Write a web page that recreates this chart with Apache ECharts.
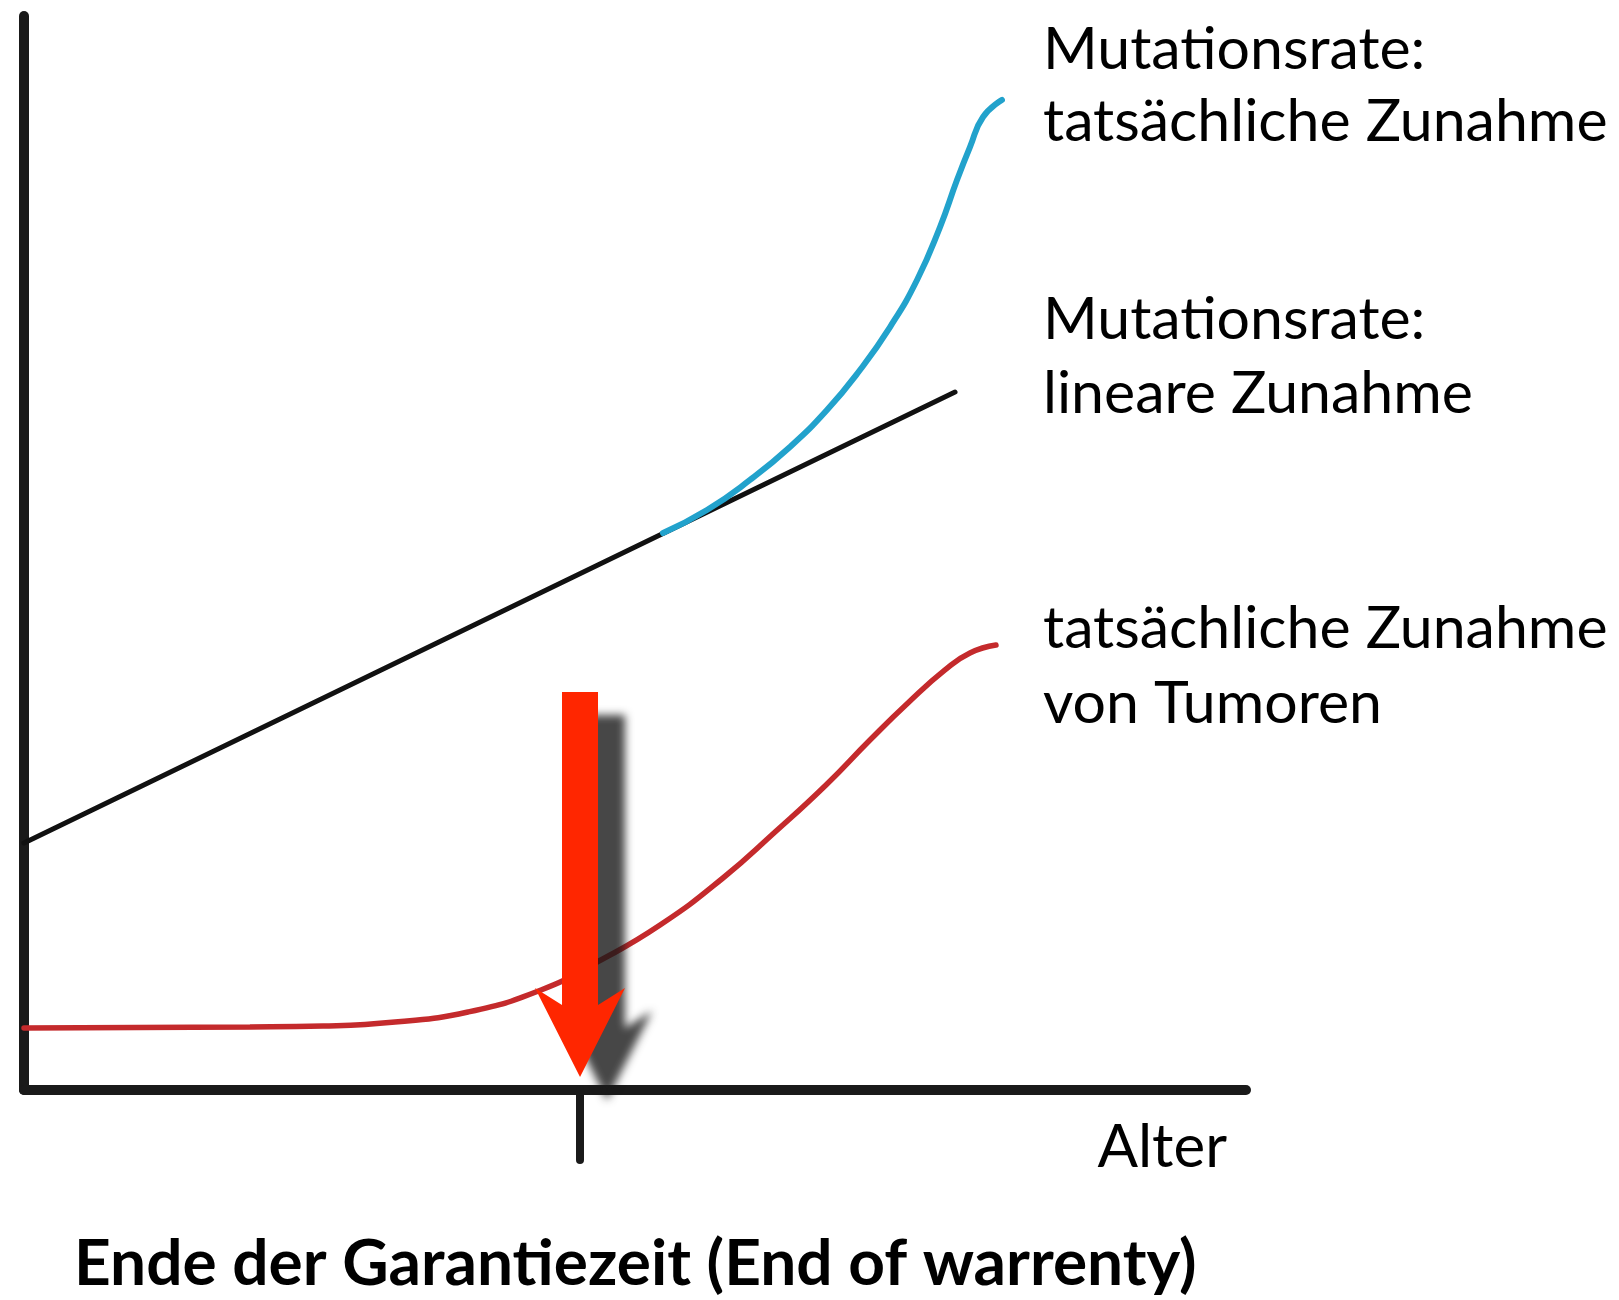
<!DOCTYPE html>
<html>
<head>
<meta charset="utf-8">
<script src="https://cdn.jsdelivr.net/npm/echarts@6/dist/echarts.min.js"></script>
<style>
  html, body { margin: 0; padding: 0; background: #ffffff; }
  #chart { width: 1619px; height: 1300px; }
</style>
</head>
<body>
<div id="chart"></div>
<script>
// ---- data (age 0..100, rate 0..100, abstract units) ----
const linearRate = [[0, 23.0], [76.19, 64.99]];
const actualRate = [
  [52.29, 51.86], [55.89, 54.00], [59.41, 56.80], [62.68, 59.87], [65.71, 63.31],
  [68.41, 67.04], [70.87, 71.04], [73.08, 75.42], [74.96, 80.35], [76.35, 84.73],
  [77.41, 87.80], [78.48, 90.60], [80.03, 92.18]
];
const tumorRate = [
  [0, 5.77], [18.49, 5.87], [24.47, 5.96], [30.36, 6.33], [36.33, 7.26],
  [42.31, 9.31], [47.05, 12.01], [52.05, 15.36], [57.20, 19.74], [61.46, 24.02],
  [65.63, 28.40], [69.23, 32.59], [72.42, 36.13], [75.37, 39.11], [77.41, 40.69],
  [79.54, 41.43]
];
const warrantyAge = 45.5;
const arrowSpan = [[warrantyAge, 37.05, 1.2]]; // [age, top, tip]
const labelActual = ['Mutationsrate:', 'tatsächliche Zunahme'];
const labelLinear = ['Mutationsrate:', 'lineare Zunahme'];
const labelTumor = ['tatsächliche Zunahme', 'von Tumoren'];
const xAxisName = 'Alter';
const title = 'Ende der Garantiezeit (End of warrenty)';

const FONT = 'Lato, "Noto Sans", sans-serif';
const chart = echarts.init(document.getElementById('chart'), null, { renderer: 'canvas' });

function textEl(txt, x, y, size, weight, align) {
  return {
    type: 'text', x: x, y: y, z: 10,
    style: { text: txt, font: weight + ' ' + size + 'px ' + FONT, fill: '#000',
             align: align || 'left', verticalAlign: 'middle' }
  };
}

const option = {
  animation: false,
  backgroundColor: '#ffffff',
  grid: { left: 24, top: 16, width: 1222, height: 1074, containLabel: false },
  xAxis: {
    type: 'value', min: 0, max: 100,
    axisLine: { show: true, onZero: false, lineStyle: { color: '#1a1a1a', width: 10, cap: 'round' } },
    axisTick: { show: true, customValues: [warrantyAge], length: 70, inside: false,
                lineStyle: { color: '#1a1a1a', width: 8, cap: 'round' } },
    axisLabel: { show: false },
    splitLine: { show: false }
  },
  yAxis: {
    type: 'value', min: 0, max: 100,
    axisLine: { show: true, onZero: false, lineStyle: { color: '#1a1a1a', width: 10, cap: 'round' } },
    axisTick: { show: false },
    axisLabel: { show: false },
    splitLine: { show: false }
  },
  series: [
    {
      type: 'line', data: linearRate, symbol: 'none', z: 2,
      lineStyle: { color: '#111111', width: 5, cap: 'round' }
    },
    {
      type: 'line', data: actualRate, symbol: 'none', smooth: true, z: 3,
      lineStyle: { color: '#22a2cc', width: 6, cap: 'round' }
    },
    {
      type: 'line', data: tumorRate, symbol: 'none', smooth: true, z: 3,
      lineStyle: { color: '#c42a2c', width: 5.5, cap: 'round' }
    },
    {
      type: 'custom', z: 5, data: arrowSpan,
      renderItem: function (params, api) {
        const top = api.coord([api.value(0), api.value(1)]);
        const tip = api.coord([api.value(0), api.value(2)]);
        const cx = top[0];
        const hw = 18, bw = 45, headH = 89, notch = 72;
        const pts = [
          [cx - hw, top[1]], [cx + hw, top[1]], [cx + hw, tip[1] - notch],
          [cx + bw, tip[1] - headH], [cx, tip[1]], [cx - bw, tip[1] - headH],
          [cx - hw, tip[1] - notch]
        ];
        return {
          type: 'polygon',
          shape: { points: pts },
          style: { fill: '#ff2600', shadowBlur: 8, shadowColor: 'rgba(25,25,25,0.8)',
                   shadowOffsetX: 27, shadowOffsetY: 23 }
        };
      }
    }
  ],
  graphic: [
    textEl(labelActual[0], 1043, 50, 59, 'normal'),
    textEl(labelActual[1], 1043, 122, 59, 'normal'),
    textEl(labelLinear[0], 1043, 320, 59, 'normal'),
    textEl(labelLinear[1], 1043, 394, 59, 'normal'),
    textEl(labelTumor[0], 1043, 629, 59, 'normal'),
    textEl(labelTumor[1], 1043, 704, 59, 'normal'),
    textEl(xAxisName, 1227, 1148, 60, 'normal', 'right'),
    textEl(title, 74, 1264, 64, 'bold')
  ]
};
chart.setOption(option);
</script>
</body>
</html>
